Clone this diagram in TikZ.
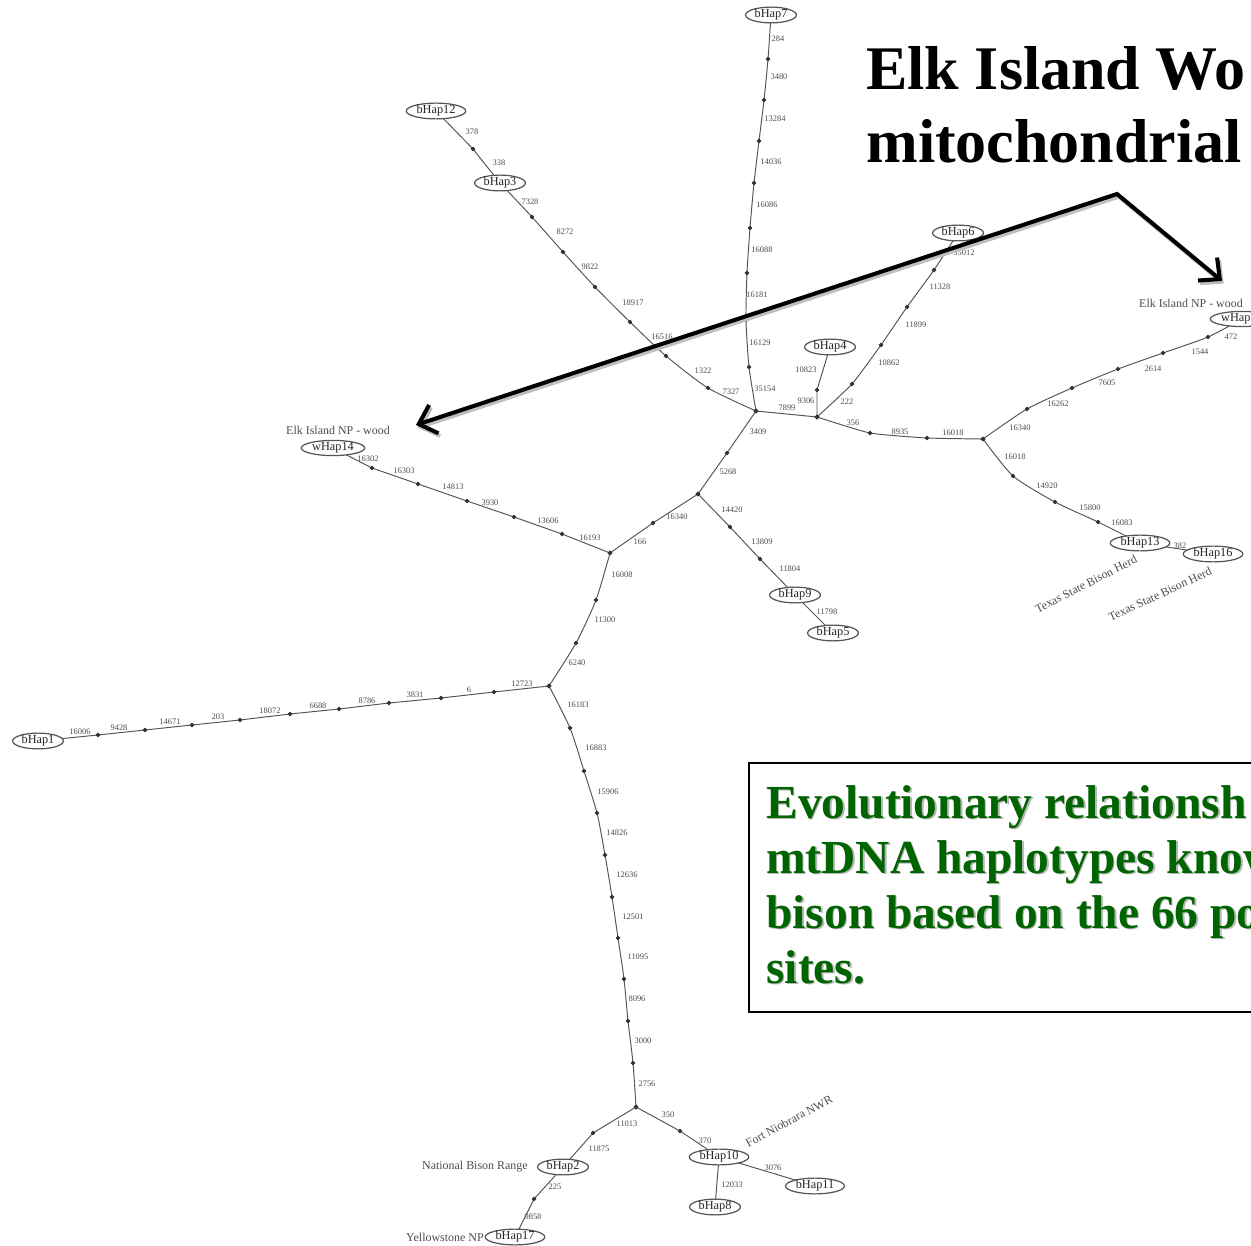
\documentclass[tikz,border=0pt]{standalone}
\usepackage{fontspec}
\setmainfont{Liberation Serif}
\usetikzlibrary{shapes.geometric,arrows.meta,backgrounds}

\definecolor{netgray}{RGB}{85,85,85}
\definecolor{capgreen}{RGB}{0,100,0}

\tikzset{
  hap/.style={ellipse, draw=netgray, fill=white, line width=0.7pt,
    inner xsep=0.9pt, inner ysep=0pt, text=black!85,
    font=\fontsize{7}{8}\selectfont},
  site/.style={inner sep=0pt, text=black!70, font=\fontsize{4.8}{5}\selectfont},
  place/.style={inner sep=0pt, text=black!70, font=\fontsize{6.8}{7}\selectfont},
  link/.style={draw=netgray, line width=0.55pt, mark=*, mark size=1pt,
    mark options={draw=black!80, fill=black!80}},
  pointer/.style={line width=2.3pt, line join=miter,
    {Straight Barb[length=9pt,width=17pt]}-{Straight Barb[length=9pt,width=17pt]}},
  headline/.style={anchor=base west, inner sep=0pt,
    font=\fontsize{35.3}{41}\selectfont\bfseries},
  capline/.style={anchor=base west, inner sep=0pt,
    font=\fontsize{27}{31}\selectfont\bfseries},
}

\begin{document}
\begin{tikzpicture}[x=0.02cm, y=-0.02cm]
  \useasboundingbox (0,0) rectangle (1251,1246);

  % haplotypes
  \node[hap] (bHap7)  at (771,15)   {bHap7};
  \node[hap] (bHap12) at (436,111)  {bHap12};
  \node[hap] (bHap3)  at (500,183)  {bHap3};
  \node[hap] (bHap6)  at (958,233)  {bHap6};
  \node[hap] (bHap4)  at (830,347)  {bHap4};
  \node[hap] (wHap15) at (1242,319) {wHap15};
  \node[hap] (wHap14) at (333,448)  {wHap14};
  \node[hap] (bHap9)  at (795,595)  {bHap9};
  \node[hap] (bHap5)  at (833,633)  {bHap5};
  \node[hap] (bHap13) at (1140,543) {bHap13};
  \node[hap] (bHap16) at (1213,554) {bHap16};
  \node[hap] (bHap1)  at (38,741)   {bHap1};
  \node[hap] (bHap2)  at (563,1167) {bHap2};
  \node[hap] (bHap10) at (719,1157) {bHap10};
  \node[hap] (bHap11) at (815,1186) {bHap11};
  \node[hap] (bHap8)  at (715,1207) {bHap8};
  \node[hap] (bHap17) at (515,1237) {bHap17};

  % median vectors
  \coordinate (j1) at (756,411);
  \coordinate (j2) at (817,417);
  \coordinate (j3) at (983,439);
  \coordinate (j4) at (698,494);
  \coordinate (j5) at (610,553);
  \coordinate (j6) at (549,686);
  \coordinate (j7) at (636,1107);

  % links, one dot per mutation
  \begin{scope}[on background layer]
    \draw[link] plot[smooth, tension=0.4] coordinates {(bHap7.center) (768,59) (764,100) (759,141)
      (754,183) (750,228) (747,273) (746,320) (749,367) (j1)};
    \draw[link] plot coordinates {(bHap12.center) (473,149) (bHap3.center)};
    \draw[link] plot[smooth, tension=0.4] coordinates {(bHap3.center) (532,217) (563,252) (595,287)
      (630,322) (666,356) (708,388) (j1)};
    \draw[link] plot coordinates {(j1) (j2)};
    \draw[link] plot coordinates {(j2) (817,390) (bHap4.center)};
    \draw[link] plot[smooth, tension=0.3] coordinates {(j2) (852,384) (881,345) (907,307) (934,270) (bHap6.center)};
    \draw[link] plot[smooth, tension=0.3] coordinates {(j2) (870,433) (927,438) (j3)};
    \draw[link] plot[smooth, tension=0.4] coordinates {(j3) (1027,409) (1072,388) (1118,369)
      (1163,353) (1208,337) (wHap15.center)};
    \draw[link] plot[smooth, tension=0.4] coordinates {(j3) (1013,476) (1055,502) (1098,522) (bHap13.center)};
    \draw[link] plot coordinates {(bHap13.center) (bHap16.center)};
    \draw[link] plot coordinates {(j1) (727,453) (j4)};
    \draw[link] plot coordinates {(j4) (730,527) (760,559) (bHap9.center)};
    \draw[link] plot coordinates {(bHap9.center) (bHap5.center)};
    \draw[link] plot coordinates {(j4) (653,523) (j5)};
    \draw[link] plot coordinates {(wHap14.center) (372,468) (418,484) (467,501) (514,517) (562,534) (j5)};
    \draw[link] plot[smooth, tension=0.4] coordinates {(j5) (596,600) (576,643) (j6)};
    \draw[link] plot coordinates {(bHap1.center) (98,735) (145,730) (192,725) (240,720) (290,714)
      (339,709) (389,703) (441,698) (494,692) (j6)};
    \draw[link] plot[smooth, tension=0.4] coordinates {(j6) (570,728) (584,771) (597,813) (605,855)
      (612,897) (618,938) (624,979) (628,1021) (633,1063) (j7)};
    \draw[link] plot coordinates {(j7) (593,1133) (bHap2.center)};
    \draw[link] plot coordinates {(j7) (680,1131) (bHap10.center)};
    \draw[link] plot coordinates {(bHap2.center) (534,1199) (bHap17.center)};
    \draw[link] plot coordinates {(bHap10.center) (bHap11.center)};
    \draw[link] plot coordinates {(bHap10.center) (bHap8.center)};
  \end{scope}

  % site numbers
  \foreach \t/\x/\y [count=\i] in {284/778/39, 3480/779/77, 13284/775/119, 14036/771/162,
      16086/767/205, 16088/762/250, 16181/757/295, 16129/760/343, 35154/765/389}
    \node[site] (a\i) at (\x,\y) {\t};
  \foreach \t/\x/\y [count=\i] in {378/472/132, 338/499/163, 7328/530/202, 8272/565/232,
      9822/590/267, 18917/633/303, 16516/662/337, 1322/703/371, 7327/731/392}
    \node[site] (b\i) at (\x,\y) {\t};
  \foreach \t/\x/\y [count=\i] in {7899/787/408, 10823/806/370, 9306/806/401, 222/847/402,
      10862/889/363, 11899/916/325, 11328/940/287, 35012/964/253}
    \node[site] (c\i) at (\x,\y) {\t};
  \foreach \t/\x/\y [count=\i] in {356/853/423, 8935/900/432, 16018/953/433, 16340/1020/428,
      16262/1058/404, 7605/1107/383, 2614/1153/369, 1544/1200/352, 472/1231/337,
      16018/1015/457, 14920/1047/486, 15800/1090/508, 16083/1122/523, 382/1180/546}
    \node[site] (d\i) at (\x,\y) {\t};
  \foreach \t/\x/\y [count=\i] in {3409/758/432, 5268/728/472, 14420/732/510, 13809/762/542,
      11804/790/569, 11798/827/612, 16340/677/517, 166/640/542}
    \node[site] (e\i) at (\x,\y) {\t};
  \foreach \t/\x/\y [count=\i] in {16302/368/459, 16303/404/471, 14813/453/487, 3930/490/503,
      13606/548/521, 16193/590/538, 16008/622/575, 11300/605/620, 6240/577/663}
    \node[site] (f\i) at (\x,\y) {\t};
  \foreach \t/\x/\y [count=\i] in {16006/80/732, 9428/119/728, 14671/170/722, 203/218/717,
      18072/270/711, 6688/318/706, 8786/367/701, 3831/415/695, 6/469/690, 12723/522/684}
    \node[site] (g\i) at (\x,\y) {\t};
  \foreach \t/\x/\y [count=\i] in {16183/578/705, 16883/596/748, 15906/608/792, 14826/617/833,
      12636/627/875, 12501/633/917, 11095/638/957, 8096/637/999, 3000/643/1041, 2756/647/1084}
    \node[site] (h\i) at (\x,\y) {\t};
  \foreach \t/\x/\y [count=\i] in {11013/627/1124, 11875/599/1149, 350/668/1115, 370/705/1141,
      225/555/1187, 9858/533/1217, 3076/773/1168, 12033/732/1185}
    \node[site] (k\i) at (\x,\y) {\t};

  % herds
  \node[place] (elkL) at (338,430) {Elk Island NP - wood};
  \node[place] (elkR) at (1191,303) {Elk Island NP - wood};
  \node[place, rotate=27] (texA) at (1086,584) {Texas State Bison Herd};
  \node[place, rotate=25] (texB) at (1160,594) {Texas State Bison Herd};
  \node[place, rotate=28] (fort) at (789,1121) {Fort Niobrara NWR};
  \node[place, anchor=east] (nbr) at (528,1167) {National Bison Range};
  \node[place, anchor=east] (yel) at (484,1237) {Yellowstone NP};

  % slide text
  \node[headline] (head1) at (866,90) {Elk Island Wo};
  \node[headline] (head2) at (866,163) {mitochondrial};

  \draw[line width=0.8pt] (749,763) rectangle (1262,1012);
  \foreach \t/\y [count=\i] in {Evolutionary relationsh/818, mtDNA haplotypes know/873,
      bison based on the 66 po/928, sites./983} {
    \node[capline, text=black!28] (shade\i) at (767.5,\y+1.5) {\t};
    \node[capline, text=capgreen] (cap\i) at (766,\y) {\t};
  }

  % pointers
  \coordinate (apex) at (1117,194);
  \coordinate (tipL) at (416,425);
  \coordinate (tipR) at (1222,281);
  \draw[pointer, black!25, transform canvas={shift={(1pt,-1.5pt)}}] (tipL) -- (apex) -- (tipR);
  \draw[pointer] (tipL) -- (apex) -- (tipR);
\end{tikzpicture}
\end{document}
